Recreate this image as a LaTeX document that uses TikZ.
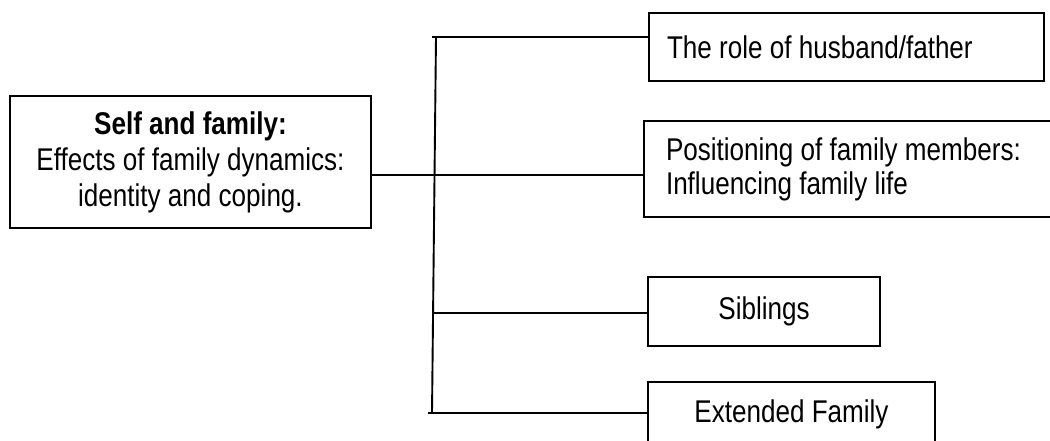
\documentclass[tikz,border=0pt]{standalone}
\usepackage{fontspec}
\setmainfont{Liberation Sans}[FakeStretch=0.83]
\begin{document}
\begin{tikzpicture}[x=1pt,y=-1pt,
  box/.style={draw, line width=1.9pt, inner sep=0pt, outer sep=0pt,
    font=\fontsize{31.4}{36}\selectfont},
  link/.style={line width=1.9pt}]
\useasboundingbox (0,0) rectangle (1050,441);

% main topic
\node[box, anchor=north west, minimum width=361pt, minimum height=132pt,
  align=center] (self) at (10,96)
  {\textbf{Self and family:}\\Effects of family dynamics:\\identity and coping.};

% sub-topics
\node[box, anchor=north west, minimum height=68pt, inner xsep=18pt,
  text width=359pt, align=flush left] (role) at (649,13)
  {The role of husband/father};
\node[box, anchor=north west, minimum height=96pt, inner xsep=22pt,
  text width=374pt, align=flush left, font=\fontsize{31.4}{34}\selectfont] (pos) at (644,121)
  {Positioning of family members:\\Influencing family life};
\node[box, anchor=north west, minimum width=232pt, minimum height=69pt] (sib) at (648,277)
  {Siblings};
\node[box, anchor=north west, minimum width=287pt, minimum height=64pt] (ext) at (648,382)
  {Extended Family};

% trunk and branches
\coordinate (ttop) at (436,37);
\coordinate (ttopl) at (432,37);
\coordinate (j2) at (434,175);
\coordinate (j3) at (433,313);
\coordinate (tbot) at (432,413);
\coordinate (elead) at (428,413);

\draw[link] (ttop) -- (tbot);
\draw[link] (ttopl) -- (role.west |- ttop);
\draw[link] (self.east |- j2) -- (pos.west |- j2);
\draw[link] (j3) -- (sib.west |- j3);
\draw[link] (elead) -- (ext.west |- elead);
\end{tikzpicture}
\end{document}
